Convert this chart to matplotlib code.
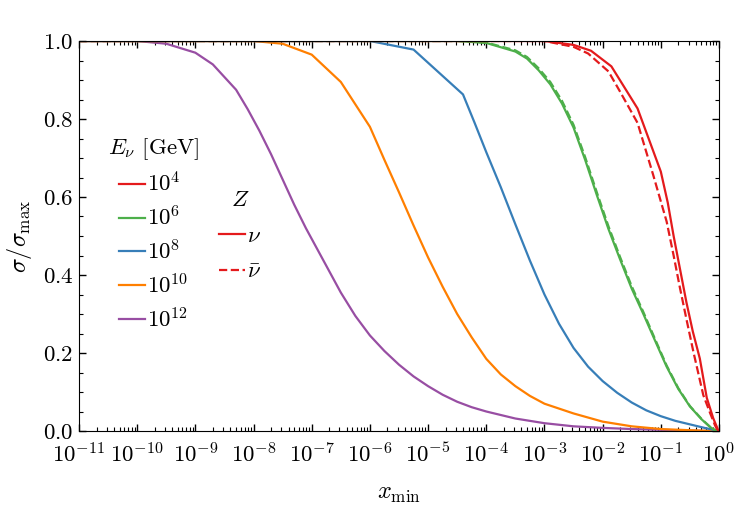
import matplotlib
matplotlib.use("Agg")
import matplotlib.pyplot as plt
import numpy as np
from matplotlib.lines import Line2D
from matplotlib.ticker import LogLocator, MultipleLocator, NullFormatter

plt.rcParams["font.family"] = "cmr10"
plt.rcParams["mathtext.fontset"] = "cm"
plt.rcParams["axes.formatter.use_mathtext"] = True
plt.rcParams["axes.unicode_minus"] = False

# x positions given as log10(x_min); values are sigma / sigma_max
# E_nu = 1e4 GeV
logx_e4 = [-11, -3.0, -2.5, -2.2, -1.85, -1.4, -1.0, -0.88, -0.78, -0.67, -0.56, -0.45,
           -0.33, -0.21, -0.1, -0.03, -0.01]
nu_e4 = [1.0, 1.0, 0.99, 0.975, 0.935, 0.827, 0.665, 0.585, 0.50, 0.415, 0.33, 0.255,
         0.186, 0.085, 0.033, 0.008, 0.0]
logx_e4_bar = [-11, -3.0, -2.5, -2.25, -1.9, -1.7, -1.4, -1.13, -0.9, -0.78, -0.67, -0.55,
               -0.44, -0.27, -0.15, -0.07, -0.02]
nubar_e4 = [1.0, 1.0, 0.985, 0.968, 0.922, 0.87, 0.79, 0.656, 0.537, 0.45, 0.366, 0.28,
            0.203, 0.092, 0.045, 0.015, 0.0]

# E_nu = 1e6 GeV
logx_e6 = [-11, -4.5, -4.0, -3.5, -3.3, -3.1, -2.9, -2.7, -2.5, -2.3, -2.1, -1.9, -1.7,
           -1.5, -1.3, -1.1, -0.9, -0.7, -0.5, -0.3, -0.15, -0.05]
nu_e6 = [1.0, 1.0, 0.995, 0.973, 0.955, 0.925, 0.889, 0.84, 0.778, 0.695, 0.605, 0.518, 0.44,
         0.365, 0.30, 0.232, 0.165, 0.108, 0.063, 0.03, 0.01, 0.0]
nubar_e6 = [1.0, 1.0, 0.996, 0.976, 0.959, 0.93, 0.895, 0.847, 0.785, 0.702, 0.612, 0.525, 0.446,
            0.371, 0.305, 0.236, 0.168, 0.11, 0.064, 0.031, 0.01, 0.0]

# E_nu = 1e8 GeV
logx_e8 = [-11, -6.0, -5.25, -4.4, -4.2, -4.0, -3.75, -3.5, -3.25, -3.0, -2.75, -2.5, -2.25,
           -2.0, -1.75, -1.5, -1.25, -1.0, -0.75, -0.5, -0.25, 0.0]
nu_e8 = [1.0, 1.0, 0.978, 0.863, 0.79, 0.715, 0.625, 0.53, 0.437, 0.35, 0.275, 0.213, 0.165,
         0.128, 0.098, 0.073, 0.053, 0.038, 0.026, 0.017, 0.008, 0.0]

# E_nu = 1e10 GeV
logx_e10 = [-11, -8.0, -7.5, -7.0, -6.5, -6.0, -5.75, -5.5, -5.25, -5.0, -4.75, -4.5, -4.25,
            -4.0, -3.75, -3.5, -3.25, -3.0, -2.5, -2.0, -1.5, -1.0, -0.5, -0.1]
nu_e10 = [1.0, 1.0, 0.993, 0.965, 0.895, 0.78, 0.695, 0.612, 0.527, 0.445, 0.37, 0.30, 0.24,
          0.185, 0.145, 0.115, 0.09, 0.07, 0.045, 0.024, 0.012, 0.005, 0.002, 0.0]

# E_nu = 1e12 GeV
logx_e12 = [-11, -10.0, -9.5, -9.0, -8.7, -8.3, -8.1, -7.9, -7.7, -7.5, -7.3, -7.1, -6.9,
            -6.7, -6.5, -6.25, -6.0, -5.75, -5.5, -5.25, -5.0, -4.75, -4.5, -4.25, -4.0,
            -3.5, -3.0, -2.5, -2.0, -1.5, -1.0, -0.5, -0.15]
nu_e12 = [1.0, 1.0, 0.993, 0.97, 0.94, 0.875, 0.825, 0.77, 0.71, 0.645, 0.58, 0.52, 0.465,
          0.41, 0.355, 0.295, 0.245, 0.205, 0.17, 0.14, 0.115, 0.093, 0.075, 0.061, 0.05,
          0.032, 0.02, 0.012, 0.008, 0.005, 0.003, 0.001, 0.0]

energy_labels = ["$10^4$", "$10^6$", "$10^8$", "$10^{10}$", "$10^{12}$"]
colors = ["#e41a1c", "#4daf4a", "#377eb8", "#ff7f00", "#984ea3"]

fs = 16.5
fig = plt.figure(figsize=(7.47, 5.15), dpi=100)
ax = fig.add_axes([79 / 747, 84 / 515, 640 / 747, 390 / 515])

lw = 1.6
ax.plot(10 ** np.array(logx_e12), nu_e12, color=colors[4], lw=lw)
ax.plot(10 ** np.array(logx_e10), nu_e10, color=colors[3], lw=lw)
ax.plot(10 ** np.array(logx_e8), nu_e8, color=colors[2], lw=lw)
ax.plot(10 ** np.array(logx_e6), nubar_e6, color=colors[1], lw=lw, ls="--")
ax.plot(10 ** np.array(logx_e6), nu_e6, color=colors[1], lw=lw)
ax.plot(10 ** np.array(logx_e4_bar), nubar_e4, color=colors[0], lw=lw, ls="--")
ax.plot(10 ** np.array(logx_e4), nu_e4, color=colors[0], lw=lw)

ax.set_xscale("log")
ax.set_xlim(1e-11, 1)
ax.set_ylim(0, 1)
ax.xaxis.set_major_locator(LogLocator(base=10, numticks=20))
ax.xaxis.set_minor_locator(LogLocator(base=10, subs=range(2, 10), numticks=200))
ax.xaxis.set_minor_formatter(NullFormatter())
ax.yaxis.set_major_locator(MultipleLocator(0.2))
ax.yaxis.set_minor_locator(MultipleLocator(0.05))
ax.tick_params(which="both", direction="in", top=True, right=True, labelsize=fs)
ax.tick_params(which="major", length=5, width=1)
ax.tick_params(which="minor", length=2.8, width=0.8)
ax.tick_params(axis="x", which="major", pad=8)
ax.tick_params(axis="y", which="major", pad=4)

ax.set_xlabel(r"$x_{\rm min}$", fontsize=17.5, labelpad=12)
ax.set_ylabel(r"$\sigma/\sigma_{\rm max}$", fontsize=17.5, labelpad=6)

handles_e = [Line2D([], [], color=c, lw=lw) for c in colors]
fig.legend(handles_e, energy_labels, title=r"$E_\nu$ [GeV]", frameon=False,
           loc="upper left", bbox_to_anchor=(108 / 747, 1 - 136 / 515),
           fontsize=fs, title_fontsize=fs, handlelength=1.15, handletextpad=0.08,
           labelspacing=0.42, borderpad=0, borderaxespad=0)

handles_z = [Line2D([], [], color=colors[0], lw=lw),
             Line2D([], [], color=colors[0], lw=lw, ls="--")]
fig.legend(handles_z, [r"$\nu$", r"$\bar{\nu}$"], title=r"$Z$", frameon=False,
           loc="upper left", bbox_to_anchor=(219 / 747, 1 - 190 / 515),
           fontsize=fs, title_fontsize=fs, handlelength=1.15, handletextpad=0.08,
           labelspacing=0.7, borderpad=0, borderaxespad=0)

fig.savefig("out.png", dpi=100)
